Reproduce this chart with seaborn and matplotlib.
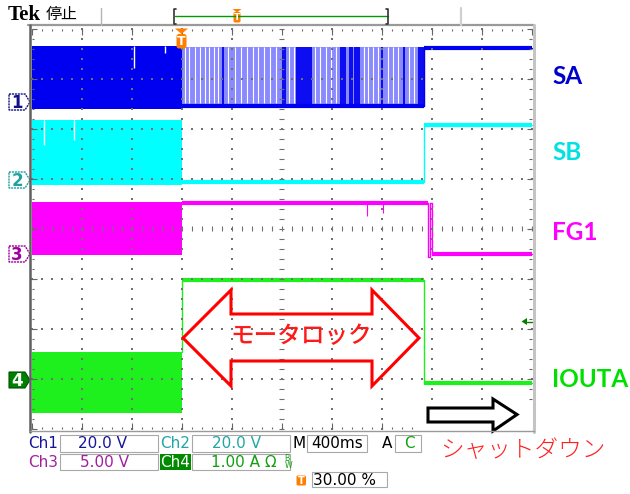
import numpy as np
import pandas as pd
import matplotlib
matplotlib.use("Agg")
import matplotlib.pyplot as plt
from matplotlib.patches import Polygon, Rectangle, FancyBboxPatch
import seaborn as sns

W, H = 630, 494

# ---- screen: 10 x 8 divisions, 400 ms/div, trigger at 30 %
n_hdiv, n_vdiv = 10, 8
trigger_div = 3.0

# ---- channels
channels = ["SA", "SB", "FG1", "IOUTA"]
trace_colors = ["#0000F0", "#00FFFF", "#FF00FF", "#1EF01E"]
label_colors = ["#0000CC", "#00E2E2", "#FF00FF", "#00E000"]
marker_colors = ["#10108A", "#20A0A0", "#A000A0", "#008000"]
ground_div = [2.54, 0.98, -0.50, -3.02]

# pre-trigger switching envelope (div)
burst_top = [3.66, 2.18, 0.54, -2.46]
burst_bottom = [2.40, 0.88, -0.52, -3.68]

# post-trigger levels (step changes, div)
sa_t = [3.0, 7.85, 10.0]
sa_v = [2.46, 3.62, 3.62]
sb_t = [3.0, 7.85, 10.0]
sb_v = [0.94, 2.08, 2.08]
fg_t = [3.0, 7.93, 7.96, 8.01, 10.0]
fg_v = [0.52, -0.56, 0.52, -0.50, -0.50]
io_t = [3.0, 3.0, 7.85, 10.0]
io_v = [-2.46, -1.02, -3.08, -3.08]

# SA sparse pulses during motor lock
sa_pulse_top = 3.64
sa_pulse_t = [3.83, 5.03, 5.06, 5.31, 5.35, 5.39, 5.43, 5.47, 5.51, 5.55, 5.59,
              6.19, 6.23, 6.27, 6.37, 6.41, 6.47, 6.51, 6.55, 7.01, 7.45,
              7.75, 7.79, 7.83]
sa_gap_t = [3.07, 3.15, 3.27, 3.37, 3.47, 3.55, 3.65, 3.73, 3.93, 4.07, 4.19,
            4.31, 4.43, 4.53, 4.65, 4.77, 4.89, 5.15, 5.25, 5.67, 5.77, 5.89,
            5.99, 6.09, 6.65, 6.73, 6.83, 6.93, 7.13, 7.23, 7.33, 7.55, 7.65]

# isolated glitches
sa_notch_t = [2.05, 2.67]
sa_notch_low = [3.22, 3.52]
sb_notch_t = [0.25, 0.85]
sb_notch_low = [1.68, 1.78]
fg_spike_t = [6.71, 7.03]
fg_spike_low = [0.26, 0.32]

post_t = [sa_t, sb_t, fg_t, io_t]
post_v = [sa_v, sb_v, fg_v, io_v]

sns.set_theme(style="white")
plt.rcParams["font.family"] = ["DejaVu Sans", "Noto Sans CJK JP"]

fig = plt.figure(figsize=(W / 100, H / 100), dpi=100)
fig.patch.set_facecolor("white")


def fx(px):
    return (px - 31.7) / 50.0


def fy(py):
    return (229.0 - py) / 50.0


ax = fig.add_axes([29.5 / W, 1 - 431 / H, 504 / W, 405.5 / H])
ax.set_xlim(fx(29.5), fx(533.5))
ax.set_ylim(fy(431), fy(25.5))
ax.set_axis_off()

# ---- traces
for i, ch in enumerate(channels):
    col = trace_colors[i]
    ax.fill_between([0, trigger_div], burst_bottom[i], burst_top[i],
                    color=col, lw=0, zorder=2)
    t, v = post_t[i], post_v[i]
    if ch == "SA":
        ax.fill_between([t[0], t[1]], v[0], sa_pulse_top, color="#8A8AFF",
                        lw=0, zorder=2)
        ax.vlines(sa_gap_t, v[0] + 0.06, sa_pulse_top, color="white",
                  lw=0.8, zorder=2.2)
        ax.vlines(sa_pulse_t, v[0], sa_pulse_top, color=col, lw=1.3, zorder=2.4)
    df = pd.DataFrame({"t": t, "v": v})
    sns.lineplot(data=df, x="t", y="v", ax=ax, color=col, lw=1.0,
                 drawstyle="steps-post", estimator=None, sort=False,
                 legend=False, zorder=3)
    for k in range(len(t) - 1):
        if t[k + 1] - t[k] > 0.1:
            ax.hlines(v[k], t[k], t[k + 1], color=col, lw=3.0, zorder=3)

ax.vlines(sa_notch_t, sa_notch_low, burst_top[0], color="white", lw=1.0, zorder=2.5)
ax.vlines(sb_notch_t, sb_notch_low, burst_top[1], color="white", lw=1.0, zorder=2.5)
ax.vlines(fg_spike_t, fg_spike_low, fg_v[0], color=trace_colors[2], lw=0.8, zorder=3)

# ---- graticule
grid_col = "#707070"
minor_x = np.arange(0, n_hdiv + 0.001, 0.2)
minor_y = np.arange(-n_vdiv / 2, n_vdiv / 2 + 0.001, 0.2)
for gx in range(1, n_hdiv):
    if gx == 5:
        continue
    ax.scatter(np.full_like(minor_y, gx), minor_y, s=1.6, marker="s",
               color=grid_col, lw=0, zorder=6)
for gy in range(-3, 4):
    if gy == 0:
        continue
    ax.scatter(minor_x, np.full_like(minor_x, gy), s=1.6, marker="s",
               color=grid_col, lw=0, zorder=6)
fine_x = np.arange(0, n_hdiv + 0.001, 0.06)
fine_y = np.arange(-4, 4.001, 0.06)
ax.scatter(fine_x, np.zeros_like(fine_x), s=0.5, marker="s", color="#8a8a8a", lw=0, zorder=6)
ax.scatter(np.full_like(fine_y, 5), fine_y, s=0.5, marker="s", color="#8a8a8a", lw=0, zorder=6)
ax.vlines(minor_x, -0.05, 0.05, color=grid_col, lw=0.8, zorder=6)
ax.hlines(minor_y, 4.95, 5.05, color=grid_col, lw=0.8, zorder=6)
# edge rulers
ax.vlines(minor_x, 3.95, 4.0, color="#666666", lw=0.8, zorder=6)
ax.vlines(minor_x, -4.0, -3.95, color="#666666", lw=0.8, zorder=6)
ax.hlines(minor_y, 0, 0.05, color="#666666", lw=0.8, zorder=6)
ax.hlines(minor_y, 9.95, 10, color="#666666", lw=0.8, zorder=6)
ax.vlines(range(0, 11), 3.88, 4.0, color="#666666", lw=0.8, zorder=6)
ax.vlines(range(0, 11), -4.0, -3.88, color="#666666", lw=0.8, zorder=6)
ax.hlines(range(-4, 5), 0, 0.1, color="#666666", lw=0.8, zorder=6)
ax.hlines(range(-4, 5), 9.9, 10, color="#666666", lw=0.8, zorder=6)

# ---- screen furniture (pixel coordinates)
ov = fig.add_axes([0, 0, 1, 1], zorder=5)
ov.set_xlim(0, W)
ov.set_ylim(H, 0)
ov.set_axis_off()
ov.patch.set_alpha(0)

ov.plot([28, 534], [25.5, 25.5], color="#9a9a9a", lw=1.6)
ov.plot([29.5, 29.5], [25, 432], color="#606060", lw=1.8)
ov.plot([534, 534], [25, 432], color="#c4c4c4", lw=2.2)
ov.plot([30, 534], [431, 431], color="#9a9a9a", lw=1.0)

# header
ov.text(8, 15, "Tek", family="Liberation Serif", weight="bold", fontsize=15,
        va="center", ha="left", color="black")
ov.text(46, 15, "停止", family=["Noto Sans CJK JP"], fontsize=11.5,
        va="center", ha="left", color="black")
ov.plot([101, 101], [8, 25], color="#b4b4b4", lw=1.0)
ov.plot([461, 461], [8, 25], color="#d0d0d0", lw=1.6)
ov.plot([175, 388], [16, 16], color="#009a00", lw=1.0)
ov.plot([176, 174, 174, 176], [9, 9, 24, 24], color="#333333", lw=1.2)
ov.plot([386, 388, 388, 386], [9, 9, 24, 24], color="#333333", lw=1.2)
ov.add_patch(Polygon([[232.5, 9], [241.5, 9], [237, 12.5]], closed=True,
                     color="#FF7F00", lw=0))
ov.add_patch(FancyBboxPatch((233.5, 12), 7, 10.5, boxstyle="round,pad=0,rounding_size=1.5",
                            color="#FF7F00", lw=0))
ov.text(237, 17.5, "T", color="white", fontsize=6.5, weight="bold",
        ha="center", va="center")

# trigger position marker
ov.add_patch(Polygon([[175, 28.5], [188, 28.5], [181.5, 34]], closed=True,
                     color="#FF7F00", lw=0))
ov.add_patch(FancyBboxPatch((176.5, 34), 10, 14.5, boxstyle="round,pad=0,rounding_size=2.5",
                            color="#FF7F00", lw=0))
ov.text(181.5, 41.5, "T", color="white", fontsize=9, weight="bold",
        ha="center", va="center")

# channel reference markers
for i, g in enumerate(ground_div):
    yc = 229 - g * 50
    pts = [[9, yc - 8], [25, yc - 8], [30, yc], [25, yc + 8], [9, yc + 8]]
    if i == 3:
        ov.add_patch(Polygon(pts, closed=True, facecolor=marker_colors[i],
                             edgecolor="#005000", lw=0.8))
        ov.text(17, yc + 0.5, "4", color="white", fontsize=12, weight="bold",
                ha="center", va="center")
    else:
        ov.add_patch(Polygon(pts, closed=True, facecolor="white",
                             edgecolor=marker_colors[i], lw=1.0, ls=(0, (1.5, 0.6))))
        ov.text(17, yc + 0.5, str(i + 1), color=marker_colors[i], fontsize=12,
                weight="bold", ha="center", va="center")

# trigger level marker (Ch4)
ov.add_patch(Polygon([[521.5, 321.5], [527, 318], [527, 325]], closed=True,
                     color="#008000", lw=0))
ov.plot([527, 532], [321.5, 321.5], color="#008000", lw=1.0)

# channel names
name_y = [76, 152.5, 232.5, 379.5]
for i, ch in enumerate(channels):
    ov.text(552, name_y[i], ch, family="Lato", weight="bold", fontsize=17.5,
            color=label_colors[i], ha="left", va="center")

# motor lock double arrow
lock_arrow = [[183, 338], [231, 290], [231, 314], [372, 314], [372, 290],
              [419, 338], [372, 386], [372, 361], [231, 361], [231, 386]]
ov.add_patch(Polygon(lock_arrow, closed=True, fill=False, edgecolor="#FF0000",
                     lw=2.2, joinstyle="miter"))
ov.text(301, 337, "モータロック", family=["Noto Sans CJK JP"], fontsize=17,
        weight="medium", color="#FF1A1A", ha="center", va="center")

# status area
ov.add_patch(Rectangle((421, 408), W - 421, H - 408, facecolor="white",
                       edgecolor="none"))
box_col = "#a8a8a8"
for (x0, x1, y0, y1) in [(60, 158, 435, 452), (192, 290, 435, 452),
                         (307, 367, 435, 452), (395, 421, 435, 452),
                         (60, 158, 454, 470), (192, 290, 454, 470),
                         (312, 387, 472, 487)]:
    ov.add_patch(Rectangle((x0, y0), x1 - x0, y1 - y0, facecolor="white",
                           edgecolor=box_col, lw=0.8))
ov.add_patch(Rectangle((160, 454), 31, 16, facecolor="#008A00", edgecolor="none"))
ov.add_patch(FancyBboxPatch((296.5, 475.5), 9.5, 10, boxstyle="round,pad=0,rounding_size=1.5",
                            color="#FF7F00", lw=0))
ov.text(301.2, 480.8, "T", color="white", fontsize=7, weight="bold",
        ha="center", va="center")

st = dict(fontsize=11, va="center")
ov.text(28, 443, "Ch1", color="#15159A", ha="left", **st)
ov.text(103, 443, "20.0 V", color="#15159A", ha="center", **st)
ov.text(160, 443, "Ch2", color="#21A6A6", ha="left", **st)
ov.text(237, 443, "20.0 V", color="#21A6A6", ha="center", **st)
ov.text(292.5, 443, "M", color="black", ha="left", **st)
ov.text(337, 443, "400ms", color="black", ha="center", **st)
ov.text(382, 443, "A", color="black", ha="left", **st)
ov.text(404, 443, "C", color="#10A010", ha="left", clip_on=True, **st)
ov.text(28, 462.5, "Ch3", color="#A020A0", ha="left", **st)
ov.text(104, 462.5, "5.00 V", color="#A020A0", ha="center", **st)
ov.text(175.5, 462.5, "Ch4", color="white", ha="center", **st)
ov.text(211, 462.5, "1.00 A Ω", color="#10A010", ha="left", **st)
ov.text(283.5, 462, r"$\mathregular{{}^{B}_{W}}$", color="#10A010", ha="left",
        fontsize=8, va="center")
ov.text(313, 480.5, "30.00 %", color="black", ha="left", **st)

# shutdown arrow
shut_arrow = [[428, 408], [493, 408], [493, 399], [517, 414.5], [493, 431],
              [493, 422], [428, 422]]
ov.add_patch(Polygon(shut_arrow, closed=True, facecolor="white",
                     edgecolor="black", lw=2.2, joinstyle="miter"))
ov.text(522.5, 451, "シャットダウン", family=["Noto Sans CJK JP"], fontsize=17,
        weight="light", color="#FF2020", ha="center", va="center")

fig.savefig("out.png", dpi=100, facecolor="white")
